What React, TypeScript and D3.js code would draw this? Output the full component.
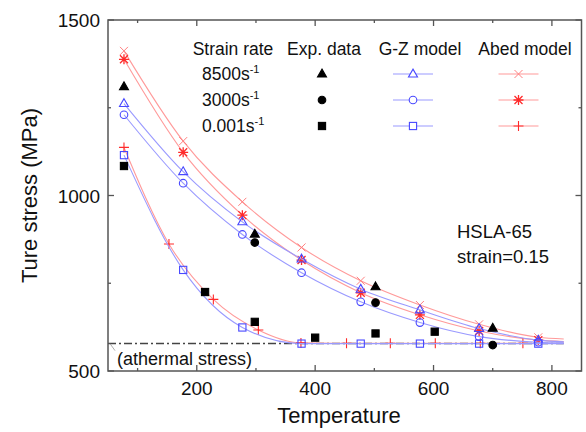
import React from "react";
import * as d3 from "d3";

// model curves are evaluated at these temperatures
const modelT = [77, 177, 277, 377, 477, 577, 677, 777];
const lineEndT = 820;

const gz8500 = [1262, 1068, 925, 819, 733, 674, 621, 588];
const gz3000 = [1230, 1035, 889, 780, 697, 638, 598, 582];
const gz0001 = [1115, 788, 624, 578, 578, 578, 578, 578];
const gzEnd = [583, 580, 578];

const abed8500 = [1412, 1155, 982, 852, 757, 688, 633, 596];
const abed3000 = [1388, 1123, 944, 816, 723, 660, 614, 588];
const abed0001T = [77, 153, 228, 304, 376, 453, 527, 603, 679, 751];
const abed0001 = [1137, 862, 704, 617, 580, 579, 579, 579, 579, 579];
const abedEnd = [591, 584, 579];

// experiments
const exp8500T = [77, 298, 502, 700];
const exp8500 = [1310, 890, 740, 622];
const exp3000T = [298, 502, 700];
const exp3000 = [866, 695, 574];
const exp0001T = [77, 214, 298, 400, 502, 602];
const exp0001 = [1084, 725, 640, 595, 607, 612];

const athermal = 578;
const xTicks = [200, 400, 600, 800];
const xMinor = [100, 300, 500, 700];
const yTicks = [500, 1000, 1500];
const yMinor = [750, 1250];
const rates = ["8500", "3000", "0.001"];

const W = 586, H = 432;
const m = { left: 108, top: 20, right: 581.5, bottom: 371 };
const x = d3.scaleLinear().domain([50, 850]).range([m.left, m.right]);
const y = d3.scaleLinear().domain([500, 1500]).range([m.bottom, m.top]);

const BLUE_LINE = "#9a9aff";
const BLUE = "#4848ff";
const RED_LINE = "#ff9a9a";
const RED = "#ff2a2a";
const FONT = "Liberation Sans, Arial, sans-serif";

type Kind = "tri" | "circ" | "sq" | "x" | "ast" | "plus";

function Marker({ kind, cx, cy, color, fill }: { kind: Kind; cx: number; cy: number; color: string; fill: string }) {
  const t = `translate(${cx},${cy})`;
  if (kind === "tri") {
    const s = 9, h = s * 0.87;
    return <path transform={t} d={`M0,${-h * 0.62}L${s / 2},${h * 0.38}L${-s / 2},${h * 0.38}Z`} fill={fill} stroke={color} strokeWidth={1.1} />;
  }
  if (kind === "circ") return <circle cx={cx} cy={cy} r={3.8} fill={fill} stroke={color} strokeWidth={1.1} />;
  if (kind === "sq") return <rect x={cx - 3.6} y={cy - 3.6} width={7.2} height={7.2} fill={fill} stroke={color} strokeWidth={1.1} />;
  if (kind === "x") return <path transform={t} d="M-4,-4L4,4M-4,4L4,-4" stroke={color} strokeWidth={1} fill="none" />;
  if (kind === "plus") return <path transform={t} d="M-5,0H5M0,-5V5" stroke={color} strokeWidth={1.1} fill="none" />;
  return <path transform={t} d="M-4,-4L4,4M-4,4L4,-4M-5,0H5M0,-5V5" stroke={color} strokeWidth={1.3} fill="none" />;
}

const line = d3.line<[number, number]>().x(d => x(d[0])).y(d => y(d[1])).curve(d3.curveMonotoneX);

function curve(ts: number[], vs: number[], end: number) {
  const pts: [number, number][] = ts.map((t, i) => [t, vs[i]]);
  pts.push([lineEndT, end]);
  return line(pts) || "";
}

const models = [
  { ts: modelT, vs: abed8500, end: abedEnd[0], lc: RED_LINE, mc: "#ff8080", kind: "x" as Kind },
  { ts: modelT, vs: abed3000, end: abedEnd[1], lc: RED_LINE, mc: RED, kind: "ast" as Kind },
  { ts: abed0001T, vs: abed0001, end: abedEnd[2], lc: RED_LINE, mc: RED, kind: "plus" as Kind },
  { ts: modelT, vs: gz8500, end: gzEnd[0], lc: BLUE_LINE, mc: BLUE, kind: "tri" as Kind },
  { ts: modelT, vs: gz3000, end: gzEnd[1], lc: BLUE_LINE, mc: BLUE, kind: "circ" as Kind },
  { ts: modelT, vs: gz0001, end: gzEnd[2], lc: BLUE_LINE, mc: BLUE, kind: "sq" as Kind },
];

const exps = [
  { ts: exp8500T, vs: exp8500, kind: "tri" as Kind },
  { ts: exp3000T, vs: exp3000, kind: "circ" as Kind },
  { ts: exp0001T, vs: exp0001, kind: "sq" as Kind },
];

export default function App() {
  const frame = "#555";
  const legendRows = [74, 100, 126];
  return (
    <svg width={W} height={H} style={{ position: "absolute", left: 0, top: 0, background: "#fff" }} fontFamily={FONT}>
      {/* athermal stress */}
      <line x1={m.left} x2={x(lineEndT)} y1={y(athermal)} y2={y(athermal)} stroke="#444" strokeWidth={1.5} strokeDasharray="8,3,2,3" />
      <line x1={m.left + 2} y1={y(athermal)} x2={m.left + 7} y2={y(athermal) + 7} stroke="#999" strokeWidth={0.8} />
      <text x={117} y={365} fontSize={18} fill="#111">(athermal stress)</text>

      {models.map((s, i) => (
        <g key={i}>
          <path d={curve(s.ts, s.vs, s.end)} fill="none" stroke={s.lc} strokeWidth={1.1} />
          {s.ts.map((t, j) => (
            <Marker key={j} kind={s.kind} cx={x(t)} cy={y(s.vs[j])} color={s.mc} fill="none" />
          ))}
        </g>
      ))}
      {exps.map((s, i) => (
        <g key={i}>
          {s.ts.map((t, j) => (
            <Marker key={j} kind={s.kind} cx={x(t)} cy={y(s.vs[j])} color="#000" fill="#000" />
          ))}
        </g>
      ))}

      {/* frame and ticks */}
      <rect x={m.left} y={m.top} width={m.right - m.left} height={m.bottom - m.top} fill="none" stroke={frame} strokeWidth={1.5} />
      {xTicks.map(t => (
        <g key={t}>
          <line x1={x(t)} x2={x(t)} y1={m.bottom} y2={m.bottom - 6} stroke={frame} strokeWidth={1.3} />
          <line x1={x(t)} x2={x(t)} y1={m.top} y2={m.top + 6} stroke={frame} strokeWidth={1.3} />
          <text x={x(t)} y={395} fontSize={19} textAnchor="middle" fill="#111">{t}</text>
        </g>
      ))}
      {xMinor.map(t => (
        <g key={t}>
          <line x1={x(t)} x2={x(t)} y1={m.bottom} y2={m.bottom - 3} stroke={frame} strokeWidth={1.3} />
          <line x1={x(t)} x2={x(t)} y1={m.top} y2={m.top + 3} stroke={frame} strokeWidth={1.3} />
        </g>
      ))}
      {yTicks.map(t => (
        <g key={t}>
          <line x1={m.left} x2={m.left + 6} y1={y(t)} y2={y(t)} stroke={frame} strokeWidth={1.3} />
          <line x1={m.right} x2={m.right - 6} y1={y(t)} y2={y(t)} stroke={frame} strokeWidth={1.3} />
          <text x={100} y={y(t) + 7} fontSize={19} textAnchor="end" fill="#111">{t}</text>
        </g>
      ))}
      {yMinor.map(t => (
        <g key={t}>
          <line x1={m.left} x2={m.left + 3} y1={y(t)} y2={y(t)} stroke={frame} strokeWidth={1.3} />
          <line x1={m.right} x2={m.right - 3} y1={y(t)} y2={y(t)} stroke={frame} strokeWidth={1.3} />
        </g>
      ))}

      <text x={339} y={423} fontSize={22} textAnchor="middle" fill="#111">Temperature</text>
      <text transform={`translate(37,${(m.top + m.bottom) / 2}) rotate(-90)`} fontSize={22} textAnchor="middle" fill="#111">Ture stress (MPa)</text>

      {/* legend */}
      <g fontSize={17.5} fill="#111">
        <text x={233} y={55} textAnchor="middle">Strain rate</text>
        <text x={324} y={55} textAnchor="middle">Exp. data</text>
        <text x={420} y={55} textAnchor="middle">G-Z model</text>
        <text x={525} y={55} textAnchor="middle">Abed model</text>
        {rates.map((r, i) => (
          <text key={r} x={202} y={legendRows[i] + 6}>
            {r}s<tspan dy={-7} fontSize={11}>-1</tspan>
          </text>
        ))}
      </g>
      {exps.map((s, i) => (
        <Marker key={"le" + i} kind={s.kind} cx={322} cy={legendRows[i]} color="#000" fill="#000" />
      ))}
      {models.map((s, i) => {
        const row = i % 3;
        const cx = i < 3 ? 518.5 : 413;
        return (
          <g key={"lm" + i}>
            <line x1={cx - 20} x2={cx + 20} y1={legendRows[row]} y2={legendRows[row]} stroke={s.lc} strokeWidth={1.1} />
            <Marker kind={s.kind} cx={cx} cy={legendRows[row]} color={s.mc} fill="#fff" />
          </g>
        );
      })}

      <text x={457} y={238} fontSize={18.5} fill="#111">HSLA-65</text>
      <text x={457} y={263} fontSize={18.5} fill="#111">strain=0.15</text>
    </svg>
  );
}
